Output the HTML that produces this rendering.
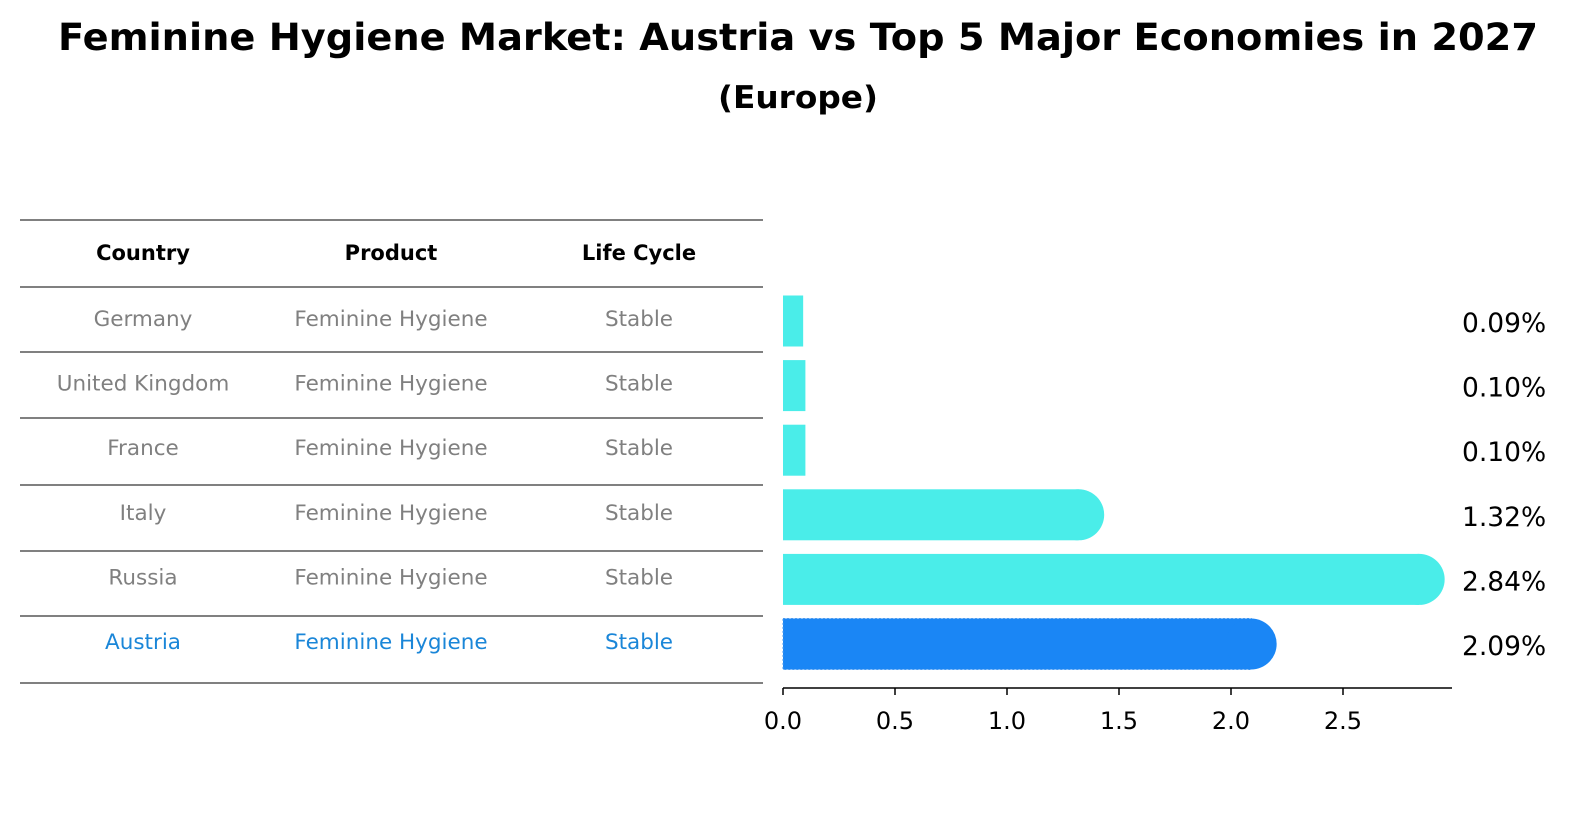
<!DOCTYPE html>
<html><head><meta charset="utf-8"><style>
body{margin:0;background:#fff;font-family:"Liberation Sans","DejaVu Sans",sans-serif;}
#wrap{position:relative;width:1586px;height:823px;overflow:hidden;}
</style></head><body>
<div id="wrap">
<svg id="svg" width="1586" height="823" xmlns="http://www.w3.org/2000/svg" font-family="DejaVu Sans, Liberation Sans, sans-serif">
<text x="798" y="50" text-anchor="middle" font-size="37" font-weight="bold" textLength="1480" lengthAdjust="spacingAndGlyphs">Feminine Hygiene Market: Austria vs Top 5 Major Economies in 2027</text>
<text x="798" y="108" text-anchor="middle" font-size="31" font-weight="bold" textLength="160" lengthAdjust="spacingAndGlyphs">(Europe)</text>
<g id="table"></g>
<g id="bars"></g>
</svg>
</div>
<script>
const countries=["Germany","United Kingdom","France","Italy","Russia","Austria"];
const products=["Feminine Hygiene","Feminine Hygiene","Feminine Hygiene","Feminine Hygiene","Feminine Hygiene","Feminine Hygiene"];
const lifecycles=["Stable","Stable","Stable","Stable","Stable","Stable"];
const values=[0.09,0.10,0.10,1.32,2.84,2.09];
const valueLabels=["0.09%","0.10%","0.10%","1.32%","2.84%","2.09%"];
const ticks=[0,0.5,1,1.5,2,2.5];
const NS="http://www.w3.org/2000/svg";
function mk(t,a,p){const e=document.createElementNS(NS,t);for(const k in a)e.setAttribute(k,a[k]);p.appendChild(e);return e;}
const tbl=document.getElementById('table'),bars=document.getElementById('bars');
const rowY=i=>321+i*64.6;
const xs=v=>783+v*224;
const lines=[220,287,352,418,485,551,616,683];
lines.forEach(y=>{const l=mk('line',{x1:20,x2:763,y1:y,y2:y,stroke:'#000','stroke-width':1},tbl);

});
const cx=[143,391,639];
["Country","Product","Life Cycle"].forEach((h,j)=>{const t=mk('text',{x:cx[j],y:260,'text-anchor':'middle','font-size':'21','font-weight':'bold'},tbl);t.textContent=h;

});
countries.forEach((c,i)=>{const col=i===5?'#1a86d8':'#808080';
[c,products[i],lifecycles[i]].forEach((s,j)=>{const t=mk('text',{x:cx[j],y:rowY(i)+5,'text-anchor':'middle','font-size':'21.5',fill:col},tbl);t.textContent=s;

});});
const h=51,r=25.5;
values.forEach((v,i)=>{const y=rowY(i)-h/2;const col=i===5?'#1a86f5':'#4aede9';
const g=mk('g',{},bars);


mk('rect',{x:783,y:y,width:xs(v)-783,height:h,fill:col,stroke:i===5?'#4a9af0':'none','stroke-dasharray':'2,2'},g);
if(v>1)mk('circle',{cx:xs(v),cy:rowY(i),r:r,fill:col},g);
const t=mk('text',{x:1462,y:rowY(i)+11,'font-size':'26.5'},bars);t.textContent=valueLabels[i];

});
const ax=mk('line',{x1:783,x2:1452,y1:688,y2:688,stroke:'#000','stroke-width':1.5},bars);


ticks.forEach(v=>{mk('line',{x1:xs(v),x2:xs(v),y1:688,y2:695,stroke:'#000','stroke-width':1.5},bars);
const t=mk('text',{x:xs(v),y:729,'text-anchor':'middle','font-size':'24'},bars);t.textContent=v.toFixed(1);

});
</script>
</body></html>
